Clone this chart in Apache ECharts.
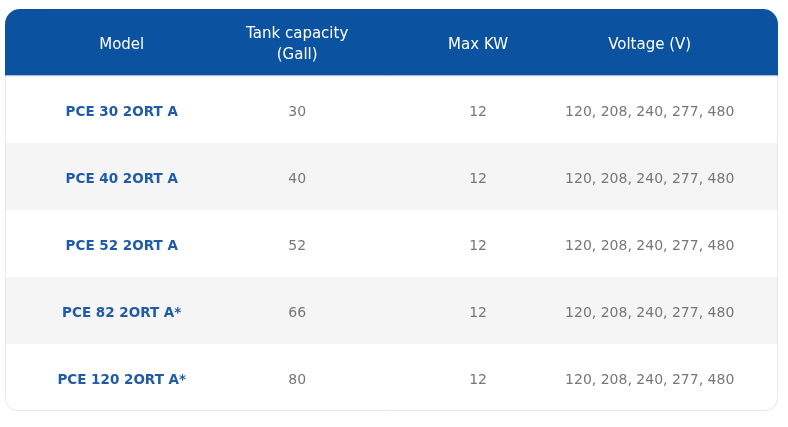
<!DOCTYPE html>
<html>
<head>
<meta charset="utf-8">
<script src="https://cdn.jsdelivr.net/npm/echarts@6/dist/echarts.min.js"></script>
<style>
  html, body { margin: 0; padding: 0; background: #fff; }
  #chart { width: 788px; height: 427px; }
</style>
</head>
<body>
<div id="chart"></div>
<script>
// 표 데이터
const headers = ['Model', 'Tank capacity\n(Gall)', 'Max KW', 'Voltage (V)'];
const models = ['PCE 30 2ORT A', 'PCE 40 2ORT A', 'PCE 52 2ORT A', 'PCE 82 2ORT A*', 'PCE 120 2ORT A*'];
const tankCapacity = [30, 40, 52, 66, 80];
const maxKW = [12, 12, 12, 12, 12];
const voltage = [
  '120, 208, 240, 277, 480',
  '120, 208, 240, 277, 480',
  '120, 208, 240, 277, 480',
  '120, 208, 240, 277, 480',
  '120, 208, 240, 277, 480'
];

// 레이아웃 (열 중심 위치, 0~1 비율)
const colX = [0.151, 0.378, 0.612, 0.834];
const FONT = '"DejaVu Sans", sans-serif';

const rowNames = ['header'].concat(models);

// 행 배경 데이터
const rowData = rowNames.map((n, i) => [0, i]);

// 셀 데이터: [x, row, text, col]
const cellData = [];
headers.forEach((h, c) => cellData.push([colX[c], 0, h, c]));
models.forEach((m, r) => {
  const vals = [m, String(tankCapacity[r]), String(maxKW[r]), voltage[r]];
  vals.forEach((v, c) => cellData.push([colX[c], r + 1, v, c]));
});

const chart = echarts.init(document.getElementById('chart'));
chart.setOption({
  animation: false,
  grid: { left: 5, right: 10, top: 9, bottom: 16 },
  xAxis: { type: 'value', min: 0, max: 1, show: false },
  yAxis: { type: 'category', data: rowNames, inverse: true, show: false },
  series: [
    {
      // 행 배경
      type: 'custom',
      data: rowData,
      renderItem: (params, api) => {
        const cs = params.coordSys;
        const row = api.value(1);
        const cy = api.coord([0, row])[1];
        const h = api.size([0, 1])[1];
        const last = row === rowNames.length - 1;
        let fill = row % 2 === 0 ? '#f5f5f5' : '#ffffff';
        let r = 0;
        if (row === 0) { fill = '#0b53a0'; r = [15, 15, 0, 0]; }
        if (last) r = [0, 0, 12, 12];
        const children = [{
          type: 'rect',
          shape: { x: cs.x, y: cy - h / 2, width: cs.width, height: h, r: r },
          style: { fill: fill }
        }];
        if (row === 0) {
          children.push({
            type: 'rect',
            shape: { x: cs.x, y: cy + h / 2 - 1, width: cs.width, height: 1 },
            style: { fill: '#5d8fcb' }
          });
        }
        return { type: 'group', children: children };
      }
    },
    {
      // 테두리 (헤더 아래 본문만)
      type: 'custom',
      data: [[0, 0]],
      z: 3,
      renderItem: (params, api) => {
        const cs = params.coordSys;
        const h = api.size([0, 1])[1];
        return {
          type: 'rect',
          shape: { x: cs.x + 0.5, y: cs.y + h, width: cs.width - 1, height: cs.height - h - 0.5, r: [0, 0, 12, 12] },
          style: { fill: 'none', stroke: '#e8e8e8', lineWidth: 1 }
        };
      }
    },
    {
      // 셀 텍스트
      type: 'custom',
      data: cellData,
      z: 5,
      renderItem: (params, api) => {
        const row = api.value(1);
        const col = api.value(3);
        const p = api.coord([api.value(0), row]);
        const item = cellData[params.dataIndex];
        let color = '#777777', weight = 'normal', size = 14;
        if (row === 0) { color = '#ffffff'; size = 15; }
        else if (col === 0) { color = '#1f5ba6'; weight = 'bold'; size = 13.5; }
        return {
          type: 'text',
          x: p[0],
          y: p[1] + 2.5,
          style: {
            text: item[2],
            fill: color,
            font: weight + ' ' + size + 'px ' + FONT,
            align: 'center',
            verticalAlign: 'middle',
            lineHeight: 21
          }
        };
      }
    }
  ]
});
</script>
</body>
</html>
